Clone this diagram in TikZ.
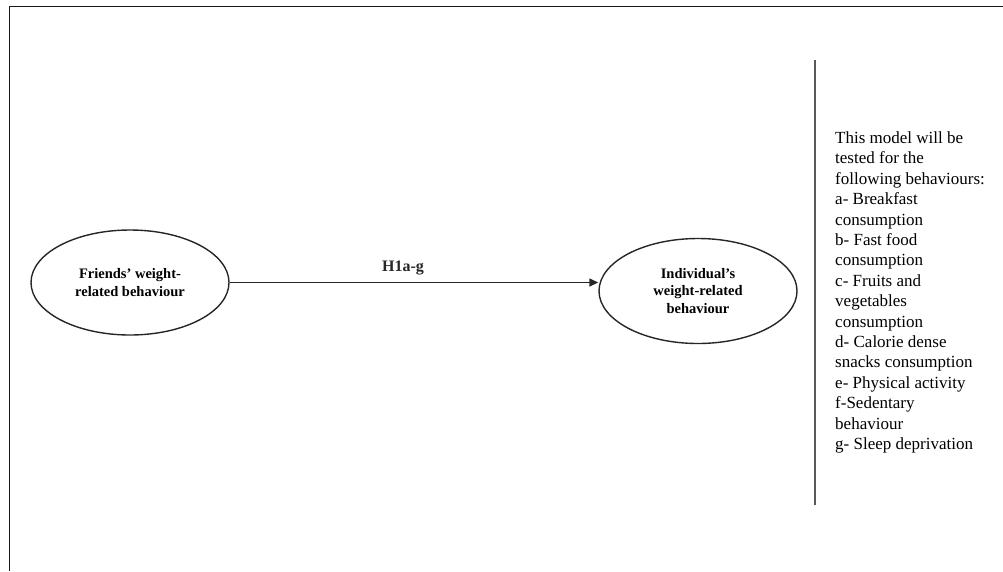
\documentclass[tikz,border=0pt]{standalone}
\usepackage{fontspec}
\setmainfont{Liberation Serif}
\usetikzlibrary{shapes.geometric,arrows.meta}
\begin{document}
\begin{tikzpicture}[x=1pt,y=-1pt,
  construct/.style={ellipse,draw=black!85,line width=1.4pt,minimum width=198pt,minimum height=105pt,
    inner sep=0pt,align=center,font=\fontsize{14.5}{17.5}\selectfont\bfseries},
  framerule/.style={draw=black!90,line width=1.8pt},
  divider/.style={draw=black!65,line width=2pt},
  listtext/.style={anchor=north west,inner sep=0pt,align=left,font=\fontsize{17}{20.4}\selectfont}]
\useasboundingbox (0,0) rectangle (1003,571);

% outer frame (top and left edges)
\coordinate (ftr) at (1003,6.5);
\coordinate (ftl) at (9.5,6.5);
\coordinate (fbl) at (9.5,571);
\draw[framerule] (ftr) -- (ftl) -- (fbl);

% constructs
\node[construct] (friends) at (130,282.5) {Friends’ weight-\\related behaviour};
\node[construct] (individual) at (698,291) {Individual’s\\weight-related\\behaviour};

% hypothesised path
\draw[line width=1.4pt,black!85,-{Triangle[length=9pt,width=8pt]}]
  (friends.east) -- (friends.east -| individual.west)
  node[midway,above=3pt,font=\fontsize{16}{19}\selectfont\bfseries,xshift=-11pt] (hyp) {H1a-g};

% divider line
\coordinate (dtop) at (815,60);
\coordinate (dbot) at (815,505);
\draw[divider] (dtop) -- (dbot);

% list of behaviours
\node[listtext] (list) at (835,131.5) {This model will be\\tested for the\\following behaviours:\\a- Breakfast\\consumption\\b- Fast food\\consumption\\c- Fruits and\\vegetables\\consumption\\d- Calorie dense\\snacks consumption\\e- Physical activity\\f-Sedentary\\behaviour\\g- Sleep deprivation};
\end{tikzpicture}
\end{document}
